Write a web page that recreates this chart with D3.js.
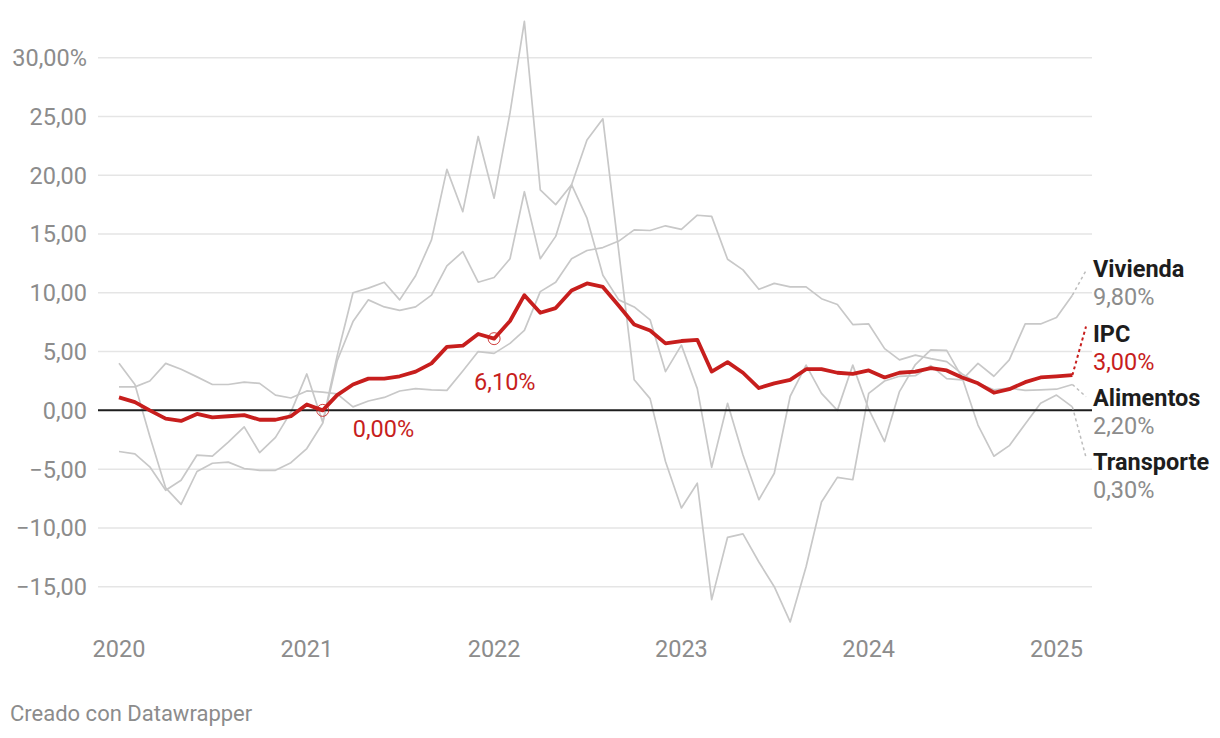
<!DOCTYPE html>
<html>
<head>
<meta charset="utf-8">
<script src="https://cdn.jsdelivr.net/npm/d3@7"></script>
<style>
  html, body { margin: 0; padding: 0; background: #fff; }
  svg { display: block; font-family: Roboto, "Noto Sans", sans-serif; }
</style>
</head>
<body>
<svg id="chart" width="1220" height="738"></svg>
<script>
// ---------- DATA ----------
const startMonth = "2020-01";
const ipc = [1.1,0.7,0.0,-0.7,-0.9,-0.3,-0.6,-0.5,-0.4,-0.8,-0.8,-0.5,
  0.5,0.0,1.3,2.2,2.7,2.7,2.9,3.3,4.0,5.4,5.5,6.5,
  6.1,7.6,9.8,8.3,8.7,10.2,10.8,10.5,8.9,7.3,6.8,5.7,
  5.9,6.0,3.3,4.1,3.2,1.9,2.3,2.6,3.5,3.5,3.2,3.1,
  3.4,2.8,3.2,3.3,3.6,3.4,2.8,2.3,1.5,1.8,2.4,2.8,
  2.9,3.0];
const vivienda = [-3.5,-3.7,-4.8,-6.8,-5.95,-3.8,-3.9,-2.7,-1.4,-3.6,-2.3,-0.15,
  3.1,-1.0,4.6,10.0,10.4,10.9,9.4,11.45,14.5,20.5,16.9,23.3,
  18.05,25.3,33.1,18.75,17.5,19.2,23.0,24.8,13.5,2.6,1.0,-4.35,
  -8.3,-6.2,-16.1,-10.8,-10.5,-12.9,-15.0,-18.0,-13.3,-7.8,-5.7,-5.9,
  1.45,2.5,2.9,2.95,3.8,2.7,2.6,4.0,2.9,4.3,7.35,7.35,
  7.9,9.8];
const alimentos = [2.0,2.0,2.5,4.0,3.5,2.85,2.2,2.2,2.4,2.3,1.3,1.05,
  1.65,1.55,1.4,0.3,0.8,1.1,1.65,1.85,1.75,1.7,3.35,5.0,
  4.85,5.7,6.8,10.1,10.9,12.9,13.6,13.85,14.4,15.35,15.3,15.7,
  15.4,16.6,16.5,12.85,11.95,10.3,10.8,10.5,10.5,9.5,9.0,7.3,
  7.35,5.25,4.3,4.7,4.4,4.15,3.1,2.3,1.75,1.9,1.7,1.75,
  1.8,2.2];
const transporte = [4.0,2.2,-2.2,-6.6,-8.0,-5.2,-4.5,-4.4,-4.95,-5.1,-5.1,-4.45,
  -3.25,-1.1,4.2,7.55,9.4,8.8,8.5,8.8,9.8,12.3,13.5,10.9,
  11.3,12.9,18.6,12.9,14.8,19.2,16.35,11.5,9.4,8.8,7.7,3.3,
  5.55,1.85,-4.85,0.6,-3.8,-7.6,-5.35,1.2,3.85,1.45,0.0,3.85,
  0.1,-2.65,1.6,3.9,5.15,5.1,2.8,-1.25,-3.9,-3.0,-1.15,0.6,
  1.3,0.3];
const seriesNames = ["Vivienda","IPC","Alimentos","Transporte"];
const seriesLabels = ["9,80%","3,00%","2,20%","0,30%"];
const yTicks = [-15,-10,-5,0,5,10,15,20,25,30];
const yTickLabels = ["\u221215,00","\u221210,00","\u22125,00","0,00","5,00","10,00","15,00","20,00","25,00","30,00%"];
const xTickYears = [2020,2021,2022,2023,2024,2025];
const annotations = [{month:"2021-02", value:0.0, text:"0,00%"},{month:"2022-01", value:6.1, text:"6,10%"}];

// ---------- SETUP ----------
const parse = d3.timeParse("%Y-%m");
const start = parse(startMonth);
const dates = ipc.map((_, i) => d3.timeMonth.offset(start, i));
const svg = d3.select("#chart");

const x = d3.scaleTime().domain([dates[0], dates[dates.length-1]]).range([119, 1072.4]);
const y = d3.scaleLinear().domain([-15, 30]).range([586.7, 57.7]);

const RED = "#c71e1d", GRAY = "#c8c8c8";
const FS = "23.5px";

// gridlines
svg.append("g").selectAll("line").data(yTicks.filter(t => t !== 0)).join("line")
  .attr("x1", 98).attr("x2", 1092)
  .attr("y1", d => y(d)).attr("y2", d => y(d))
  .attr("stroke", "#e5e5e5").attr("stroke-width", 1.5);

// y labels
svg.append("g").selectAll("text").data(yTicks).join("text")
  .attr("x", 87).attr("y", d => y(d)).attr("dy", "0.36em")
  .attr("text-anchor", "end").attr("fill", "#8c8c8c")
  .style("font-size", FS)
  .text((d, i) => yTickLabels[i]);

// x labels
svg.append("g").selectAll("text").data(xTickYears).join("text")
  .attr("x", d => x(new Date(d, 0, 1))).attr("y", 657)
  .attr("text-anchor", "middle").attr("fill", "#8c8c8c")
  .style("font-size", FS)
  .text(d => d);

const line = d3.line().x((d, i) => x(dates[i])).y(d => y(d));

// gray series
[vivienda, alimentos, transporte].forEach(s => {
  svg.append("path").datum(s).attr("d", line)
    .attr("fill", "none").attr("stroke", GRAY).attr("stroke-width", 1.7)
    .attr("stroke-linejoin", "round");
});

// baseline
svg.append("line").attr("x1", 98).attr("x2", 1092)
  .attr("y1", y(0)).attr("y2", y(0))
  .attr("stroke", "#1d1d1d").attr("stroke-width", 2);

// IPC
svg.append("path").datum(ipc).attr("d", line)
  .attr("fill", "none").attr("stroke", RED).attr("stroke-width", 3.8)
  .attr("stroke-linejoin", "round");

// annotations
annotations.forEach((a, k) => {
  const d = parse(a.month);
  svg.append("circle").attr("cx", x(d)).attr("cy", y(a.value)).attr("r", 6)
    .attr("fill", "none").attr("stroke", RED).attr("stroke-width", 1).attr("opacity", 0.85);
});
svg.append("text").attr("x", x(parse(annotations[0].month)) + 30).attr("y", y(annotations[0].value) + 27)
  .attr("fill", RED).style("font-size", FS).text(annotations[0].text);
svg.append("text").attr("x", x(parse(annotations[1].month)) - 20).attr("y", y(annotations[1].value) + 51)
  .attr("fill", RED).style("font-size", FS).text(annotations[1].text);

// right labels
const all = [vivienda, ipc, alimentos, transporte];
const nameBase = [277, 341.5, 406, 470];
const connEnd = [270.5, 326.5, 396.7, 457.3];
const lastDate = dates[dates.length - 1];
all.forEach((s, k) => {
  const isIpc = k === 1;
  svg.append("line")
    .attr("x1", x(lastDate)).attr("y1", y(s[s.length - 1]))
    .attr("x2", 1086).attr("y2", connEnd[k])
    .attr("stroke", isIpc ? RED : "#bdbdbd").attr("stroke-width", isIpc ? 2 : 1.5)
    .attr("stroke-dasharray", "3,3");
  svg.append("text").attr("x", 1093).attr("y", nameBase[k])
    .attr("fill", "#1d1d1d").style("font-size", FS).style("font-weight", "700")
    .text(seriesNames[k]);
  svg.append("text").attr("x", 1093).attr("y", nameBase[k] + 28)
    .attr("fill", isIpc ? RED : "#8c8c8c").style("font-size", FS)
    .text(seriesLabels[k]);
});

// footer
svg.append("text").attr("x", 10).attr("y", 721).attr("fill", "#8c8c8c")
  .style("font-size", "22px").text("Creado con Datawrapper");
</script>
</body>
</html>
